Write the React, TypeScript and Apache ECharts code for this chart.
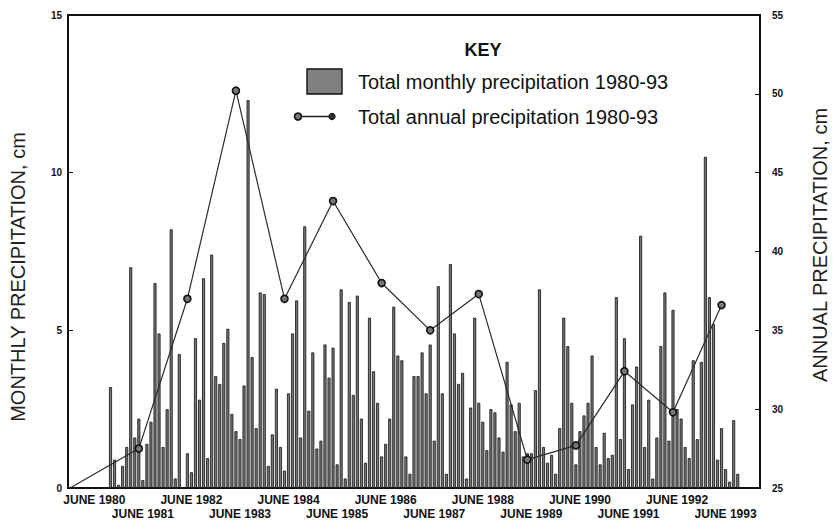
import React, { useEffect, useRef } from "react";
import * as echarts from "echarts";

// Monthly precipitation (cm), Oct 1980 .. Sep 1993
const monthly: number[] = [
  3.2, 0.9, 0.1, 0.7, 1.3, 7.0, 1.6, 2.2, 0.25, 1.4, 2.1, 6.5, 4.9, 1.3, 2.5, 8.2, 0.3, 4.25, 0.0, 1.1, 0.5, 4.75, 2.8, 6.65, 0.95, 7.4,
  3.55, 3.3, 4.6, 5.05, 2.35, 1.8, 1.55, 3.25, 12.3, 4.15, 1.9, 6.2, 6.15, 0.7, 1.7, 3.15, 1.3, 0.55, 3.0, 4.9, 5.95, 1.6, 8.3, 2.45, 4.3, 1.25,
  1.5, 4.55, 3.5, 4.45, 0.75, 6.3, 0.3, 5.9, 2.95, 6.1, 2.2, 0.8, 5.4, 3.7, 2.7, 1.0, 1.4, 2.2, 5.75, 4.2, 4.05, 1.0, 0.45, 3.55, 3.55, 4.3, 3.0,
  4.55, 1.5, 6.4, 3.0, 0.45, 7.1, 4.9, 3.3, 3.65, 0.3, 2.55, 5.4, 2.7, 2.1, 1.2, 2.5, 2.4, 1.6, 1.15, 4.0, 2.65, 1.8, 2.7, 1.0, 1.1, 1.1,
  3.1, 6.3, 1.3, 0.8, 1.05, 0.45, 1.9, 5.4, 4.5, 2.7, 0.75, 1.8, 2.3, 2.7, 4.2, 1.3, 0.75, 1.75, 0.95, 1.05, 6.05, 1.55, 4.75, 0.6, 2.65, 3.85, 8.0,
  1.3, 2.8, 0.3, 1.6, 4.5, 6.2, 1.5, 5.65, 2.5, 2.2, 1.3, 0.95, 4.05, 1.55, 4.0, 10.5, 6.05, 5.2, 0.9, 1.9, 0.6, 0.2, 2.15, 0.45,
];

// Annual precipitation (cm), plotted each May 1981 .. May 1993
const annual: number[] = [27.5, 37.0, 50.2, 37.0, 43.2, 38.0, 35.0, 37.3, 26.8, 27.7, 32.4, 29.8, 36.6];
const annualStart = 25;

// Axis months: Dec 1979 .. Feb 1994
const axisStartYear = 1979;
const axisStartMonth = 12;
const nMonths = 171;
const barOffset = 10; // Oct 1980
const annualOffset = 17; // May 1981

const leftTicks = { min: 0, max: 15, interval: 5 };
const rightTicks = { min: 25, max: 55, interval: 5 };

const categories: string[] = [];
for (let k = 0; k < nMonths; k++) {
  const t = axisStartMonth - 1 + k;
  const y = axisStartYear + Math.floor(t / 12);
  const m = (t % 12) + 1;
  categories.push(`${y}-${m < 10 ? "0" + m : m}`);
}

const FONT = "'Liberation Sans', Arial, Helvetica, sans-serif";

const isJune = (val: string, even: boolean) =>
  val.endsWith("-06") && (parseInt(val.slice(0, 4), 10) % 2 === 0) === even;

const juneLabel = (even: boolean) => ({
  interval: (_idx: number, val: string) => isJune(val, even),
  formatter: (val: string) => (isJune(val, even) ? `JUNE ${val.slice(0, 4)}` : ""),
  fontFamily: FONT,
  fontWeight: "bold",
  fontSize: 12,
  color: "#111",
  margin: even ? 6 : 20,
  hideOverlap: false,
  showMinLabel: true,
  showMaxLabel: true,
});

export default function App() {
  const ref = useRef<HTMLDivElement>(null);
  useEffect(() => {
    if (!ref.current) return;
    const chart = echarts.init(ref.current, null, { renderer: "svg" });
    const barData: (number | null)[] = categories.map((_, k) => {
      const i = k - barOffset;
      return i >= 0 && i < monthly.length ? monthly[i] : null;
    });
    const lineData: any[] = categories.map(() => null);
    lineData[0] = { value: annualStart, symbol: "none" };
    annual.forEach((v, j) => {
      lineData[annualOffset + j * 12] = v;
    });

    chart.setOption({
      animation: false,
      grid: {
        left: 68,
        right: 80,
        top: 15,
        bottom: 32,
        show: true,
        borderColor: "#111",
        borderWidth: 1.8,
        containLabel: false,
      },
      xAxis: [
        {
          type: "category",
          data: categories,
          boundaryGap: true,
          position: "bottom",
          axisLine: { show: true, lineStyle: { color: "#111", width: 1.8 } },
          axisTick: { show: false },
          axisLabel: juneLabel(true),
          splitLine: { show: false },
        },
        {
          type: "category",
          data: categories,
          boundaryGap: true,
          position: "bottom",
          axisLine: { show: false },
          axisTick: { show: false },
          axisLabel: juneLabel(false),
          splitLine: { show: false },
        },
      ],
      yAxis: [
        {
          type: "value",
          min: leftTicks.min,
          max: leftTicks.max,
          interval: leftTicks.interval,
          axisLine: { show: true, lineStyle: { color: "#111", width: 1.8 } },
          axisTick: { show: true, inside: true, length: 5, lineStyle: { color: "#111" } },
          axisLabel: { fontFamily: FONT, fontWeight: "bold", fontSize: 10, color: "#111", margin: 6 },
          splitLine: { show: false },
        },
        {
          type: "value",
          position: "right",
          min: rightTicks.min,
          max: rightTicks.max,
          interval: rightTicks.interval,
          axisLine: { show: true, lineStyle: { color: "#111", width: 1.8 } },
          axisTick: { show: true, inside: true, length: 5, lineStyle: { color: "#111" } },
          axisLabel: { fontFamily: FONT, fontWeight: "bold", fontSize: 10, color: "#111", margin: 12 },
          splitLine: { show: false },
        },
      ],
      series: [
        {
          name: "Total monthly precipitation 1980-93",
          type: "bar",
          xAxisIndex: 0,
          data: barData,
          barWidth: 3,
          itemStyle: { color: "#777", borderColor: "#111", borderWidth: 0.8 },
          z: 2,
        },
        {
          name: "Total annual precipitation 1980-93",
          type: "line",
          xAxisIndex: 0,
          yAxisIndex: 1,
          data: lineData,
          connectNulls: true,
          showAllSymbol: true,
          symbol: "circle",
          symbolSize: 7,
          itemStyle: { color: "#777", borderColor: "#111", borderWidth: 1.6 },
          lineStyle: { color: "#2a2a2a", width: 1.2 },
          z: 5,
        },
      ],
      graphic: [
        {
          type: "text",
          x: 18,
          y: 277,
          rotation: Math.PI / 2,
          style: {
            text: "MONTHLY PRECIPITATION, cm",
            font: `20px ${FONT}`,
            fill: "#222",
            align: "center",
            verticalAlign: "middle",
          },
        },
        {
          type: "text",
          x: 820,
          y: 245,
          rotation: Math.PI / 2,
          style: {
            text: "ANNUAL PRECIPITATION, cm",
            font: `20px ${FONT}`,
            fill: "#222",
            align: "center",
            verticalAlign: "middle",
          },
        },
        {
          type: "text",
          x: 483,
          y: 50,
          style: { text: "KEY", font: `bold 18px ${FONT}`, fill: "#111", align: "center", verticalAlign: "middle" },
        },
        {
          type: "rect",
          shape: { x: 307, y: 69, width: 35, height: 25 },
          style: { fill: "#808080", stroke: "#111", lineWidth: 1.4 },
        },
        {
          type: "text",
          x: 358,
          y: 82,
          style: {
            text: "Total monthly precipitation 1980-93",
            font: `20px ${FONT}`,
            fill: "#111",
            align: "left",
            verticalAlign: "middle",
          },
        },
        {
          type: "line",
          shape: { x1: 298, y1: 116.5, x2: 332, y2: 116.5 },
          style: { stroke: "#222", lineWidth: 1.5 },
        },
        {
          type: "circle",
          shape: { cx: 298, cy: 116.5, r: 3.5 },
          style: { fill: "#777", stroke: "#111", lineWidth: 1.6 },
        },
        {
          type: "circle",
          shape: { cx: 332, cy: 116.5, r: 3 },
          style: { fill: "#333", stroke: "#111", lineWidth: 1.2 },
        },
        {
          type: "text",
          x: 358,
          y: 117,
          style: {
            text: "Total annual precipitation 1980-93",
            font: `20px ${FONT}`,
            fill: "#111",
            align: "left",
            verticalAlign: "middle",
          },
        },
      ],
    });
    return () => chart.dispose();
  }, []);
  return (
    <div
      ref={ref}
      style={{ position: "fixed", left: 0, top: 0, width: 840, height: 520, background: "#fff" }}
    />
  );
}
